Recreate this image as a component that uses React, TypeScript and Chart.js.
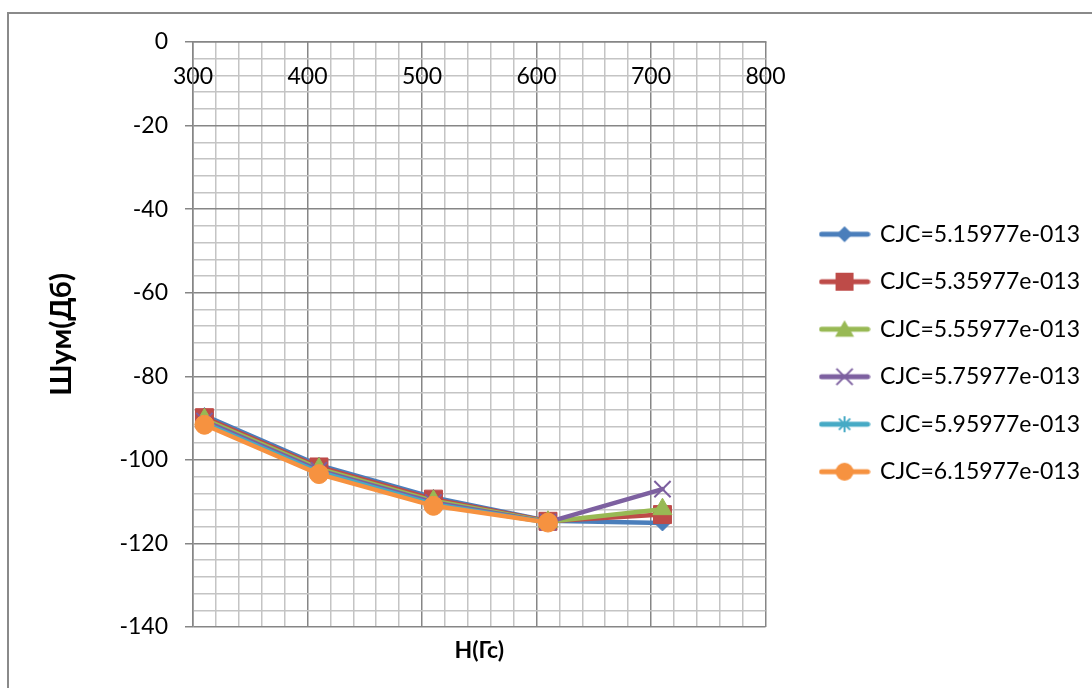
import React, { useEffect, useRef } from "react";
import { Chart, registerables } from "chart.js";

Chart.register(...registerables);

// ---- Data ----
const xValues = [310, 410, 510, 610, 710];
const seriesLabels = [
  "CJC=5.15977e-013",
  "CJC=5.35977e-013",
  "CJC=5.55977e-013",
  "CJC=5.75977e-013",
  "CJC=5.95977e-013",
  "CJC=6.15977e-013",
];
const series1 = [-89.4, -101.3, -109.0, -114.6, -115.1];
const series2 = [-89.9, -101.7, -109.4, -114.7, -113.1];
const series3 = [-90.3, -102.1, -109.8, -114.8, -111.8];
const series4 = [-90.7, -102.5, -110.2, -114.9, -107.0];
const series5 = [-91.2, -102.9, -110.6, -115.0, null];
const series6 = [-91.6, -103.4, -111.0, -115.0, null];
const xTickLabels = [300, 400, 500, 600, 700, 800];
const yTickLabels = [0, -20, -40, -60, -80, -100, -120, -140];

const allSeries = [series1, series2, series3, series4, series5, series6];
const colors = ["#4A7EBB", "#BE4B48", "#98B954", "#7D60A0", "#46AAC5", "#F69240"];
const shapes = ["rectRot", "rect", "triangle", "crossRot", "star", "circle"];
const radii = [8, 12.7, 11, 11.5, 8, 9.5];

const FONT = "Lato, 'Noto Sans', sans-serif";
const MAJOR = "#868686";
const MINOR = "#c4c4c4";

function makeIcon(color: string, shape: string): HTMLCanvasElement {
  const c = document.createElement("canvas");
  c.width = 52;
  c.height = 24;
  const g = c.getContext("2d")!;
  g.strokeStyle = color;
  g.fillStyle = color;
  g.lineWidth = 5;
  g.lineCap = "round";
  g.beginPath();
  g.moveTo(3, 12);
  g.lineTo(49, 12);
  g.stroke();
  const x = 26, y = 12;
  g.lineWidth = 2;
  g.lineCap = "butt";
  g.beginPath();
  if (shape === "rectRot") {
    const r = 8;
    g.moveTo(x - r, y); g.lineTo(x, y - r); g.lineTo(x + r, y); g.lineTo(x, y + r); g.closePath(); g.fill();
  } else if (shape === "rect") {
    g.rect(x - 9, y - 9, 18, 18); g.fill();
  } else if (shape === "triangle") {
    const r = 11, cy = y + 2;
    g.moveTo(x, cy - r);
    g.lineTo(x + r * Math.sin(2 * Math.PI / 3), cy + r / 2);
    g.lineTo(x - r * Math.sin(2 * Math.PI / 3), cy + r / 2);
    g.closePath(); g.fill();
  } else if (shape === "crossRot") {
    const d = 11.5 * Math.SQRT1_2;
    g.moveTo(x - d, y - d); g.lineTo(x + d, y + d);
    g.moveTo(x + d, y - d); g.lineTo(x - d, y + d); g.stroke();
  } else if (shape === "star") {
    const r = 8, d = r * Math.SQRT1_2;
    g.moveTo(x, y - r); g.lineTo(x, y + r);
    g.moveTo(x - r, y); g.lineTo(x + r, y);
    g.moveTo(x - d, y - d); g.lineTo(x + d, y + d);
    g.moveTo(x + d, y - d); g.lineTo(x - d, y + d); g.stroke();
  } else {
    g.arc(x, y, 9, 0, Math.PI * 2); g.fill();
  }
  return c;
}

export default function App() {
  const ref = useRef<HTMLCanvasElement | null>(null);

  useEffect(() => {
    if (!ref.current) return;
    const icons = colors.map((c, i) => makeIcon(c, shapes[i]));
    const datasets = allSeries.map((s, i) => ({
      label: seriesLabels[i],
      data: xValues
        .map((x, j) => ({ x, y: s[j] }))
        .filter((p) => p.y !== null && p.y !== undefined),
      showLine: true,
      borderColor: colors[i],
      backgroundColor: colors[i],
      borderWidth: 4.5,
      borderJoinStyle: "round" as const,
      borderCapStyle: "round" as const,
      pointStyle: shapes[i] as any,
      pointRadius: radii[i],
      pointBorderWidth: shapes[i] === "crossRot" || shapes[i] === "star" ? 2 : 1,
      pointBorderColor: colors[i],
      pointBackgroundColor: colors[i],
      order: 5 - i,
      xAxisID: "x",
      yAxisID: "y",
    }));

    const chart = new Chart(ref.current, {
      type: "scatter",
      data: { datasets },
      options: {
        animation: false,
        responsive: false,
        events: [],
        layout: { padding: { left: 30, top: 42, right: 2, bottom: 24 } },
        plugins: {
          tooltip: { enabled: false },
          legend: {
            display: true,
            position: "right",
            maxWidth: 400,
            labels: {
              usePointStyle: true,
              pointStyleWidth: 48,
              padding: 24.5,
              color: "#000",
              font: { family: FONT, size: 23 },
              generateLabels: () =>
                seriesLabels.map((t, i) => ({
                  text: t,
                  fillStyle: colors[i],
                  strokeStyle: colors[i],
                  lineWidth: 0,
                  pointStyle: icons[i] as any,
                  hidden: false,
                  datasetIndex: i,
                  fontColor: "#000",
                })),
            },
          },
        },
        scales: {
          x: {
            type: "linear",
            position: { y: 0 } as any,
            min: 300,
            max: 800,
            ticks: {
              stepSize: 20,
              autoSkip: false,
              maxRotation: 0,
              padding: 21,
              color: "#000",
              font: { family: FONT, size: 23 },
              callback: (v: any) => (xTickLabels.includes(Number(v)) ? String(v) : ""),
            },
            grid: {
              drawTicks: false,
              lineWidth: 1.5,
              color: (ctx: any) => (ctx.tick && xTickLabels.includes(ctx.tick.value) ? MAJOR : MINOR),
            },
            border: { display: true, color: MAJOR, width: 1.5 },
          },
          x2: {
            type: "linear",
            position: "bottom",
            grid: { display: false, drawTicks: false },
            ticks: { display: false },
            border: { display: false },
            title: {
              display: true,
              text: "Н(Гс)",
              color: "#000",
              font: { family: FONT, size: 23, weight: "bold" },
              padding: { top: 0, bottom: 0 },
            },
            afterFit: (s: any) => { s.height = 37; },
          },
          yR: {
            type: "linear",
            position: "right",
            grid: { display: false, drawTicks: false },
            ticks: { display: false },
            border: { display: false },
            afterFit: (s: any) => { s.width = 30.5; },
          },
          y: {
            type: "linear",
            position: "left",
            min: -140,
            max: 0,
            ticks: {
              stepSize: 4,
              autoSkip: false,
              padding: 17,
              color: "#000",
              font: { family: FONT, size: 23 },
              callback: (v: any) => (yTickLabels.includes(Number(v)) ? String(v) : ""),
            },
            grid: {
              tickLength: 8,
              lineWidth: 1.5,
              color: (ctx: any) => (ctx.tick && yTickLabels.includes(ctx.tick.value) ? MAJOR : MINOR),
              tickColor: (ctx: any) => (ctx.tick && yTickLabels.includes(ctx.tick.value) ? MAJOR : "rgba(0,0,0,0)"),
            },
            border: { display: true, color: MAJOR, width: 1.5 },
            title: {
              display: true,
              text: "Шум(Дб)",
              color: "#000",
              font: { family: FONT, size: 29, weight: "bold" },
              padding: { top: 14.6, bottom: 0 },
            },
            afterFit: (s: any) => { s.width = 163; },
          },
        },
      } as any,
    });
    return () => chart.destroy();
  }, []);

  return (
    <div style={{ position: "fixed", left: 0, top: 0, width: 1092, height: 688, overflow: "hidden", background: "#fff" }}>
      <div style={{ position: "absolute", left: 7, top: 12, width: 1200, height: 800, border: "2px solid #8a8a8a" }} />
      <canvas ref={ref} width={1092} height={688} style={{ position: "absolute", left: 0, top: 0, width: 1092, height: 688 }} />
    </div>
  );
}
